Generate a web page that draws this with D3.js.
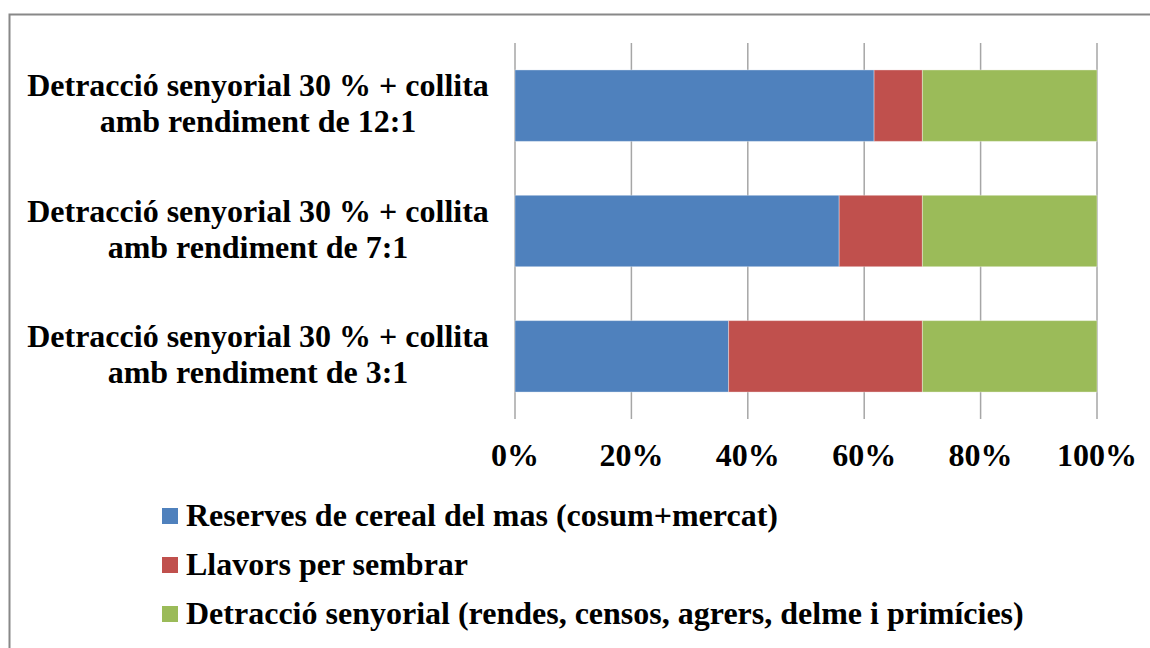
<!DOCTYPE html>
<html><head><meta charset="utf-8">
<script src="https://cdn.jsdelivr.net/npm/d3@7"></script>
<style>body{margin:0;background:#fff}svg{display:block}</style>
</head><body>
<svg id="c" width="1150" height="648"></svg>
<script>
const categories = [
  ["Detracció senyorial 30 % + collita", "amb rendiment de 12:1"],
  ["Detracció senyorial 30 % + collita", "amb rendiment de 7:1"],
  ["Detracció senyorial 30 % + collita", "amb rendiment de 3:1"]
];
const seriesNames = [
  "Reserves de cereal del mas (cosum+mercat)",
  "Llavors per sembrar",
  "Detracció senyorial (rendes, censos, agrers, delme i primícies)"
];
const reserves = [61.7, 55.7, 36.7];
const llavors = [8.3, 14.3, 33.3];
const detraccio = [30, 30, 30];
const tickValues = [0, 20, 40, 60, 80, 100];
const tickLabels = ["0%", "20%", "40%", "60%", "80%", "100%"];
const colors = ["#4F81BD", "#C0504D", "#9BBB59"];

const svg = d3.select("#c");
const font = "'Liberation Serif','Times New Roman',serif";
svg.append("rect").attr("x", 9.5).attr("y", 14.5).attr("width", 1160).attr("height", 660)
  .attr("fill", "#fff").attr("stroke", "#888").attr("stroke-width", 2);

const x = d3.scaleLinear().domain([0, 100]).range([515, 1097]);
const y = d3.scaleBand().domain(d3.range(categories.length)).range([43, 419]).paddingInner(0.43).paddingOuter(0.215);

// gridlines
svg.append("g").selectAll("line").data(tickValues).join("line")
  .attr("x1", d => x(d)).attr("x2", d => x(d)).attr("y1", 43).attr("y2", 419)
  .attr("stroke", "#a6a6a6").attr("stroke-width", 1.5);

const rows = categories.map((c, i) => ({ i, vals: [reserves[i], llavors[i], detraccio[i]] }));
const stack = d3.stack().keys([0, 1, 2]).value((d, k) => d.vals[k])(rows);
svg.append("g").selectAll("g").data(stack).join("g").attr("fill", (d, k) => colors[k])
  .selectAll("rect").data(d => d).join("rect")
  .attr("x", d => x(d[0])).attr("width", d => x(d[1]) - x(d[0]))
  .attr("y", d => y(d.data.i)).attr("height", y.bandwidth())
  .attr("stroke", "rgba(255,255,255,0.35)").attr("stroke-width", 1);

// x tick labels
svg.append("g").selectAll("text").data(tickValues).join("text")
  .attr("x", d => x(d)).attr("y", 466).attr("text-anchor", "middle")
  .attr("font-family", font).attr("font-weight", "bold").attr("font-size", 32)
  .text((d, i) => tickLabels[i]);

// category labels
categories.forEach((lines, i) => {
  const cy = y(i) + y.bandwidth() / 2;
  const t = svg.append("text").attr("text-anchor", "middle")
    .attr("font-family", font).attr("font-weight", "bold").attr("font-size", 32);
  lines.forEach((l, j) => {
    t.append("tspan").attr("x", 258).attr("y", cy + 8.5 + (j - 0.5) * 36).text(l);
  });
});

// legend
const lg = svg.append("g").selectAll("g").data(seriesNames).join("g")
  .attr("transform", (d, i) => `translate(162,${526 + i * 49})`);
lg.append("rect").attr("x", 0).attr("y", -18).attr("width", 16).attr("height", 16).attr("fill", (d, i) => colors[i]);
lg.append("text").attr("x", 24).attr("y", 0).attr("font-family", font).attr("font-weight", "bold").attr("font-size", 32).text(d => d);
</script>
</body></html>
